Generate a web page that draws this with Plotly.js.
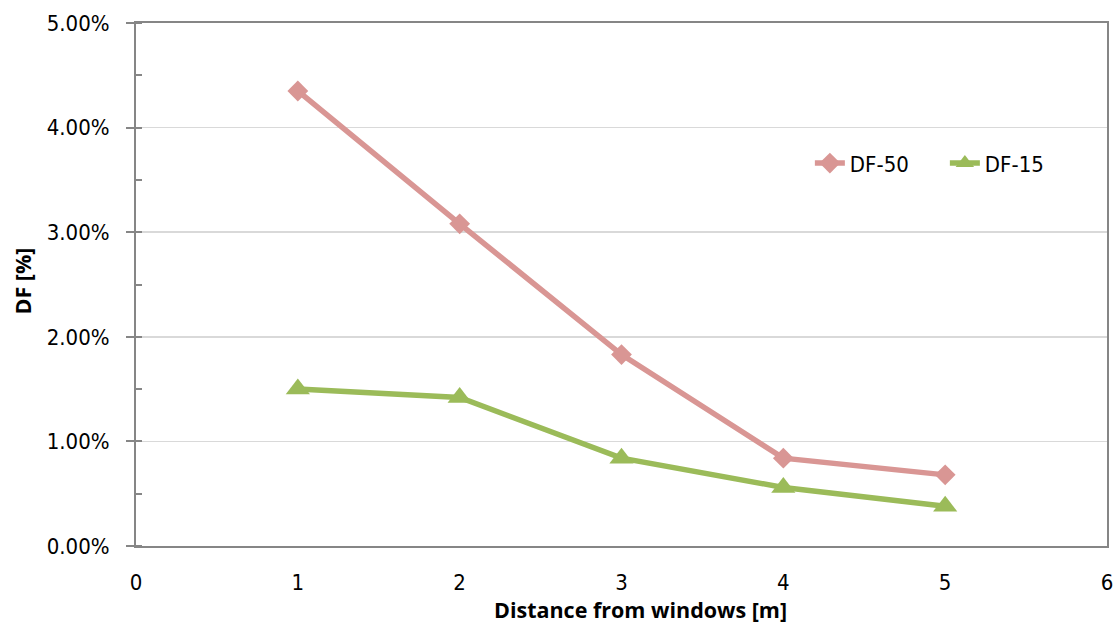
<!DOCTYPE html>
<html>
<head>
<meta charset="utf-8">
<script src="https://cdn.plot.ly/plotly-3.0.1.min.js"></script>
<style>
  html, body { margin: 0; padding: 0; background: #ffffff; }
  #chart { width: 1114px; height: 623px; }
</style>
</head>
<body>
<div id="chart"></div>
<script>
// Distance from the window wall, in metres
const distance = [1, 2, 3, 4, 5];

// Daylight factor for each configuration (as fractions, shown as %)
const df50 = [0.0435, 0.0308, 0.0183, 0.0084, 0.0068];
const df15 = [0.0150, 0.0142, 0.0084, 0.0056, 0.0038];

const seriesNames = ['DF-50', 'DF-15'];
const seriesColors = ['#D99694', '#9BBB59'];

const xTitle = 'Distance from windows [m]';
const yTitle = 'DF [%]';

const axisColor = '#868686';
const gridColor = '#D9D9D9';
const tickFont = { family: 'DejaVu Sans Condensed, DejaVu Sans, sans-serif', size: 22, color: '#000000' };
const titleFont = { family: 'Open Sans, Liberation Sans, sans-serif', size: 21.5, color: '#000000', weight: 'bold' };

const traces = [
  {
    x: distance, y: df50, name: seriesNames[0], type: 'scatter', mode: 'lines+markers',
    line: { color: seriesColors[0], width: 5.5 },
    marker: { symbol: 'diamond', size: 16, color: seriesColors[0] }
  },
  {
    x: distance, y: df15, name: seriesNames[1], type: 'scatter', mode: 'lines+markers',
    line: { color: seriesColors[1], width: 5.5 },
    marker: { symbol: 'triangle-up', size: 21, color: seriesColors[1] }
  }
];

const layout = {
  width: 1114, height: 623,
  margin: { l: 136, r: 7, t: 23, b: 77 },
  paper_bgcolor: '#ffffff', plot_bgcolor: '#ffffff',
  showlegend: true,
  legend: {
    orientation: 'h', x: 0.694, y: 0.772, xanchor: 'left', yanchor: 'top',
    font: tickFont, bgcolor: 'rgba(0,0,0,0)', tracegroupgap: 0, entrywidth: 90
  },
  xaxis: {
    range: [0, 6], dtick: 1, tick0: 0,
    showline: true, linecolor: axisColor, linewidth: 2, mirror: true,
    showgrid: false, zeroline: false, ticks: '',
    tickfont: tickFont, ticklabelstandoff: 16
  },
  yaxis: {
    range: [0, 0.05], dtick: 0.01, tick0: 0, tickformat: '.2%',
    showline: true, linecolor: axisColor, linewidth: 2, mirror: true,
    showgrid: true, gridcolor: gridColor, gridwidth: 1.5, zeroline: false,
    ticks: 'outside', ticklen: 8, tickcolor: axisColor, tickwidth: 2,
    minor: { dtick: 0.005, ticks: 'inside', ticklen: 6, tickcolor: axisColor, tickwidth: 2, showgrid: false },
    tickfont: tickFont, ticklabelstandoff: 12
  },
  annotations: [
    {
      text: xTitle, font: titleFont, showarrow: false,
      xref: 'paper', yref: 'paper', x: 0.52, y: 0, xanchor: 'center', yanchor: 'middle', yshift: -63
    },
    {
      text: yTitle, font: titleFont, showarrow: false, textangle: -90,
      xref: 'paper', yref: 'paper', x: 0, y: 0.5, xanchor: 'center', yanchor: 'middle', xshift: -114, yshift: 3
    }
  ]
};

Plotly.newPlot('chart', traces, layout, { displayModeBar: false, staticPlot: true });
</script>
</body>
</html>
